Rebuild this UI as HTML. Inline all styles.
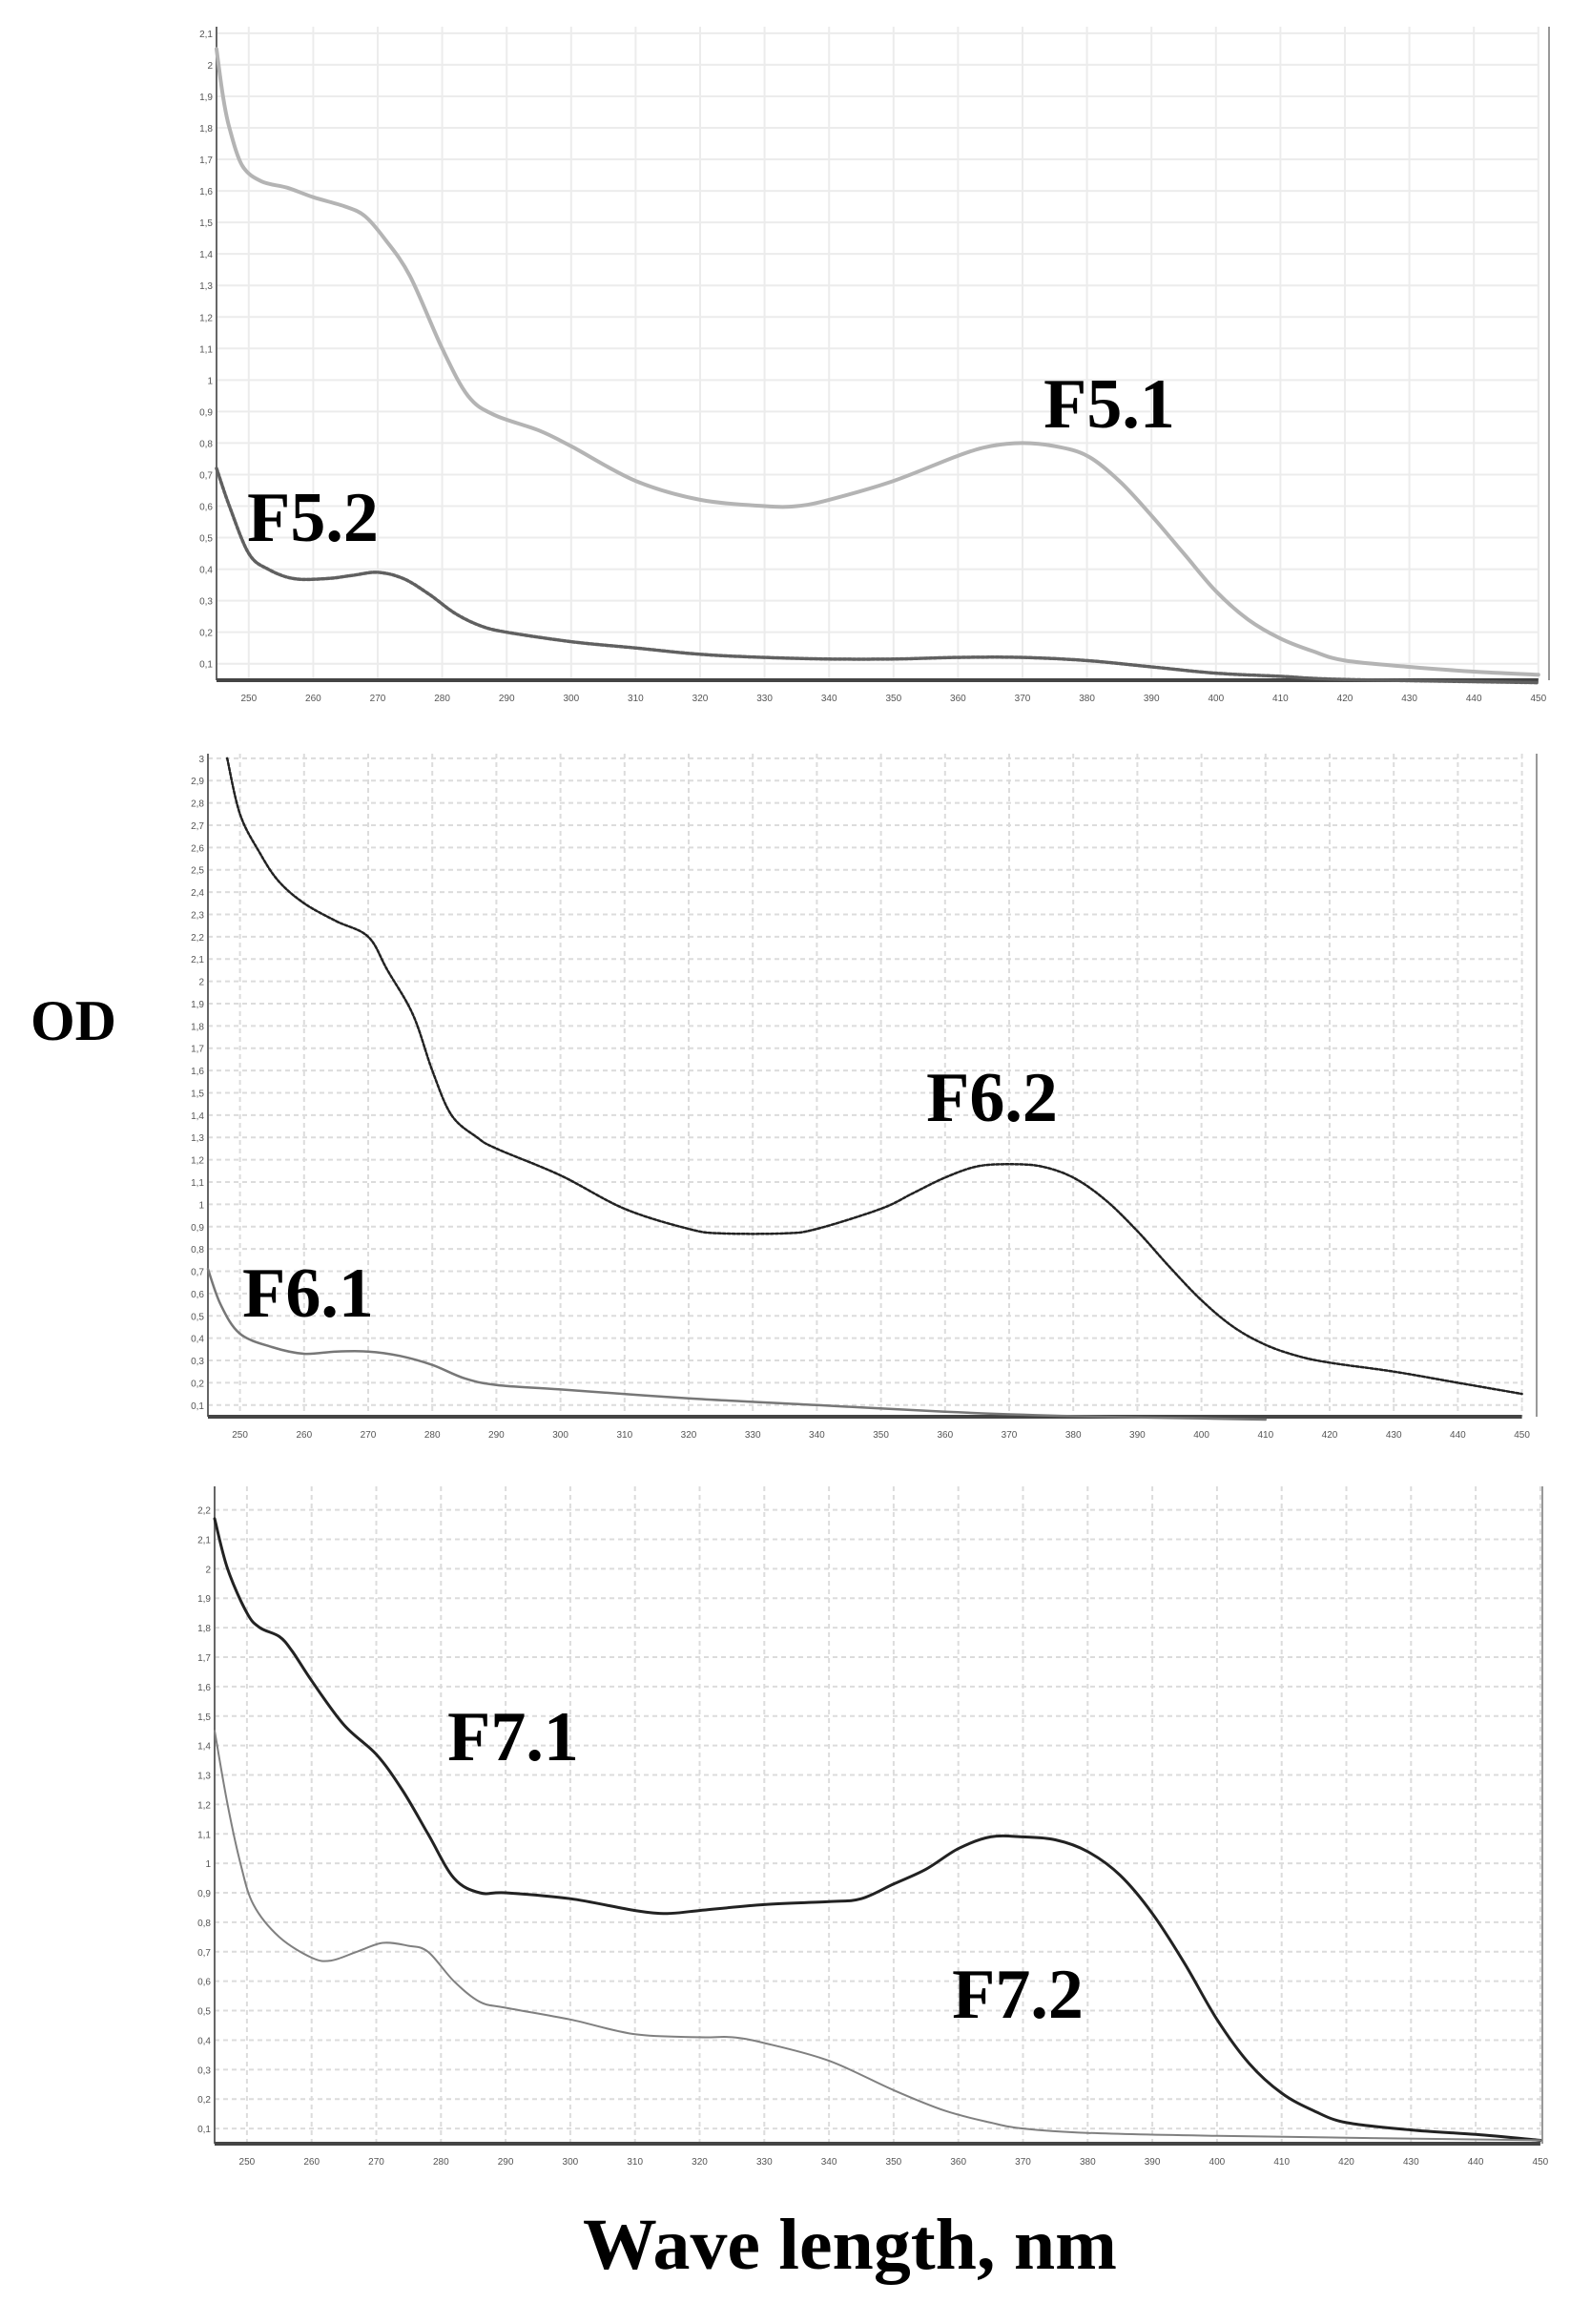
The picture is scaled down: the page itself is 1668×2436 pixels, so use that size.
<!DOCTYPE html>
<html><head><meta charset="utf-8"><style>
html,body{margin:0;padding:0;background:#fff;}
svg{display:block}
</style></head><body>
<svg id="s" width="1668" height="2436" xmlns="http://www.w3.org/2000/svg" font-family="Liberation Serif, serif">
<rect width="1668" height="2436" fill="#fff"/>
<text x="77" y="1090" font-size="60" font-weight="bold" text-anchor="middle" fill="#000">OD</text>
<text x="891" y="2378" font-size="76" font-weight="bold" text-anchor="middle" fill="#000" textLength="560" lengthAdjust="spacingAndGlyphs">Wave length, nm</text>
</svg>
<script>
const S=document.getElementById('s');const NS='http://www.w3.org/2000/svg';
function el(t,a,txt){const e=document.createElementNS(NS,t);for(const k in a)e.setAttribute(k,a[k]);if(txt!=null)e.textContent=txt;S.appendChild(e);return e;}
function smooth(P){let d='M'+P[0][0].toFixed(1)+','+P[0][1].toFixed(1);
 for(let i=0;i<P.length-1;i++){const p0=P[i-1]||P[i],p1=P[i],p2=P[i+1],p3=P[i+2]||p2;
  const c1=[p1[0]+(p2[0]-p0[0])/6,p1[1]+(p2[1]-p0[1])/6],c2=[p2[0]-(p3[0]-p1[0])/6,p2[1]-(p3[1]-p1[1])/6];
  d+=' C'+c1[0].toFixed(1)+','+c1[1].toFixed(1)+' '+c2[0].toFixed(1)+','+c2[1].toFixed(1)+' '+p2[0].toFixed(1)+','+p2[1].toFixed(1);}
 return d;}
const charts=[
 {x0:227,sx:6.76,y0:1.544*472,sy:1.544*214,top:28,bot:713,right:1624,ymax:2.1,grid:'#ececec',dash:'',
  labels:[['F5.1',1163,448],['F5.2',328,567]],
  series:[
   {c:'#b4b4b4',w:4,d:'',p:[[245,2.05],[246,1.9],[247,1.8],[249,1.68],[252,1.63],[256,1.61],[260,1.58],[265,1.55],[268,1.52],[271,1.45],[275,1.33],[280,1.1],[284,0.95],[288,0.89],[295,0.84],[300,0.79],[310,0.68],[320,0.62],[330,0.6],[335,0.6],[340,0.62],[350,0.68],[360,0.76],[365,0.79],[370,0.8],[375,0.79],[380,0.76],[385,0.68],[390,0.57],[395,0.45],[400,0.33],[405,0.24],[410,0.18],[415,0.14],[420,0.11],[430,0.09],[440,0.075],[450,0.065]]},
   {c:'#606060',w:3.5,d:'3 2',p:[[245,0.72],[247,0.6],[250,0.45],[253,0.4],[257,0.37],[262,0.37],[266,0.38],[270,0.39],[274,0.37],[278,0.32],[282,0.26],[286,0.22],[290,0.2],[300,0.17],[310,0.15],[320,0.13],[330,0.12],[340,0.115],[350,0.115],[360,0.12],[370,0.12],[380,0.11],[390,0.09],[400,0.07],[410,0.06],[420,0.05],[450,0.04]]}]},
 {x0:218,sx:6.72,y0:1.544*969,sy:1.544*151.4,top:790,bot:1485,right:1611,ymax:3.0,grid:'#dcdcdc',dash:'5 4',
  labels:[['F6.2',1040,1175],['F6.1',323,1380]],
  series:[
   {c:'#222',w:2.5,d:'3 2',p:[[248,3.0],[250,2.75],[253,2.58],[256,2.45],[260,2.35],[265,2.27],[270,2.2],[273,2.05],[277,1.85],[280,1.6],[283,1.4],[287,1.3],[290,1.25],[300,1.13],[310,0.98],[320,0.89],[325,0.87],[335,0.87],[340,0.89],[350,0.98],[355,1.05],[360,1.12],[365,1.17],[370,1.18],[375,1.17],[380,1.12],[385,1.02],[390,0.88],[395,0.72],[400,0.57],[405,0.45],[410,0.37],[415,0.32],[420,0.29],[430,0.25],[440,0.2],[450,0.15]]},
   {c:'#777',w:2.5,d:'',p:[[245,0.71],[247,0.55],[250,0.42],[255,0.36],[260,0.33],[265,0.34],[270,0.34],[275,0.32],[280,0.28],[285,0.22],[290,0.19],[300,0.17],[320,0.13],[340,0.1],[360,0.07],[380,0.05],[400,0.04],[410,0.035]]}]},
 {x0:225,sx:6.78,y0:1.544*1465,sy:1.544*200,top:1558,bot:2247,right:1617,ymax:2.2,grid:'#dcdcdc',dash:'5 4',
  labels:[['F7.1',538,1845],['F7.2',1067,2115]],
  series:[
   {c:'#222',w:3,d:'',p:[[245,2.17],[247,2.0],[250,1.85],[252,1.8],[255,1.77],[257,1.72],[260,1.62],[265,1.47],[270,1.37],[274,1.25],[278,1.1],[282,0.95],[286,0.9],[290,0.9],[300,0.88],[310,0.84],[315,0.83],[320,0.84],[330,0.86],[340,0.87],[345,0.88],[350,0.93],[355,0.98],[360,1.05],[365,1.09],[370,1.09],[375,1.08],[380,1.04],[385,0.96],[390,0.83],[395,0.66],[400,0.47],[405,0.32],[410,0.22],[415,0.16],[420,0.12],[430,0.095],[440,0.08],[450,0.06]]},
   {c:'#808080',w:2,d:'',p:[[245,1.45],[247,1.2],[249,1.0],[251,0.86],[255,0.75],[260,0.68],[263,0.67],[267,0.7],[271,0.73],[275,0.72],[278,0.7],[282,0.6],[286,0.53],[290,0.51],[300,0.47],[310,0.42],[320,0.41],[325,0.41],[330,0.39],[340,0.33],[350,0.23],[358,0.16],[365,0.12],[370,0.1],[380,0.085],[400,0.075],[450,0.06]]}]}
];
for(const c of charts){
 const X=n=>c.x0+(n-245)*c.sx, Y=v=>c.y0-v*c.sy;
 for(let v=0.1;v<=c.ymax+0.001;v+=0.1){const y=Y(v);
  el('line',{x1:c.x0,x2:X(450),y1:y,y2:y,stroke:c.grid,'stroke-width':2,'stroke-dasharray':c.dash});
  el('text',{x:c.x0-4,y:y+4,'font-size':10,'text-anchor':'end',fill:'#555','font-family':'Liberation Sans, sans-serif'},(Math.round(v*10)/10).toString().replace('.',','));}
 for(let n=250;n<=450;n+=10){const x=X(n);
  el('line',{x1:x,x2:x,y1:c.top,y2:c.bot,stroke:c.grid,'stroke-width':2,'stroke-dasharray':c.dash});
  el('text',{x:x,y:c.bot+22,'font-size':10,'text-anchor':'middle',fill:'#555','font-family':'Liberation Sans, sans-serif'},n);}
 el('line',{x1:c.x0,x2:c.x0,y1:c.top,y2:c.bot,stroke:'#666','stroke-width':2});
 el('line',{x1:c.right,x2:c.right,y1:c.top,y2:c.bot,stroke:'#999','stroke-width':2});
 el('line',{x1:c.x0,x2:X(450),y1:c.bot,y2:c.bot,stroke:'#444','stroke-width':4});
 for(const s of c.series){
  el('path',{d:smooth(s.p.map(q=>[X(q[0]),Y(q[1])])),fill:'none',stroke:s.c,'stroke-width':s.w,'stroke-dasharray':s.d,'stroke-linejoin':'round','stroke-linecap':'round'});
 }
 for(const l of c.labels) el('text',{x:l[1],y:l[2],'font-size':74,'font-weight':'bold','text-anchor':'middle',fill:'#000'},l[0]);
}
</script>
</body></html>
